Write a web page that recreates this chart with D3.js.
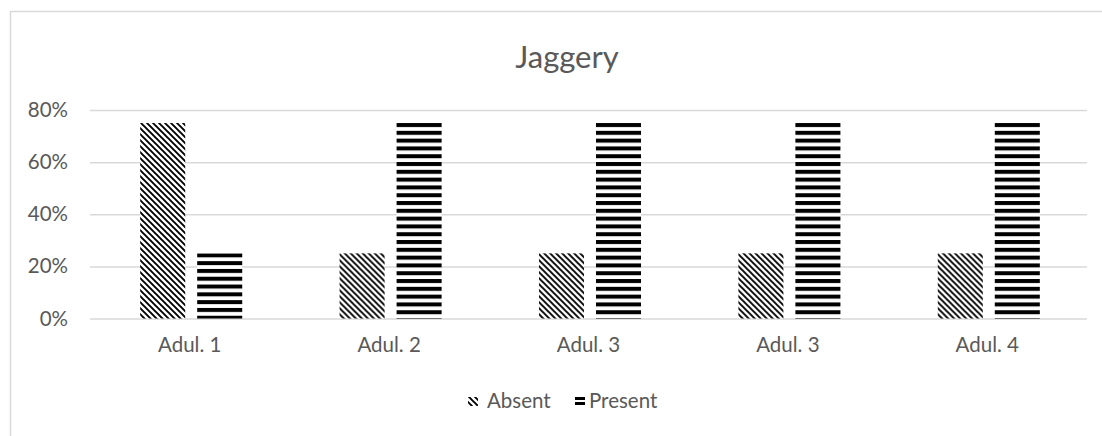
<!DOCTYPE html>
<html>
<head>
<meta charset="utf-8">
<script src="https://cdn.jsdelivr.net/npm/d3@7"></script>
<style>
  html, body { margin: 0; padding: 0; background: #fff; }
  svg { display: block; font-family: Lato, "Open Sans", sans-serif; }
</style>
</head>
<body>
<svg id="chart" width="1102" height="436"></svg>
<script>
// Data
const categories = ["Adul. 1", "Adul. 2", "Adul. 3", "Adul. 3", "Adul. 4"];
const seriesNames = ["Absent", "Present"];
const absentValues = [0.75, 0.25, 0.25, 0.25, 0.25];
const presentValues = [0.25, 0.75, 0.75, 0.75, 0.75];
const yTicks = [0, 0.2, 0.4, 0.6, 0.8];

const svg = d3.select("#chart");
const plotLeft = 90, plotRight = 1087, plotTop = 110, plotBottom = 318.5;
const textColor = "#595959";
const gridColor = "#d9d9d9";
const labelFont = "20.5px";

// Chart frame
svg.append("rect")
  .attr("x", 10.5).attr("y", 11.5)
  .attr("width", 1200).attr("height", 600)
  .attr("fill", "#fff")
  .attr("stroke", gridColor).attr("stroke-width", 1.5);

const idx = categories.map((d, i) => i);
const x0 = d3.scaleBand().domain(idx).range([plotLeft, plotRight]);
const x1 = d3.scaleBand().domain(seriesNames)
  .range([1.5, x0.bandwidth() + 1.5])
  .paddingInner(0.21).paddingOuter(0.854);
const y = d3.scaleLinear().domain([0, 0.8]).range([plotBottom, plotTop]);

const defs = svg.append("defs");

// Diagonal hatch for "Absent"
const diag = defs.append("pattern")
  .attr("id", "hatch-diag")
  .attr("patternUnits", "userSpaceOnUse")
  .attr("width", 6).attr("height", 6);
diag.append("rect").attr("width", 6).attr("height", 6).attr("fill", "#fff");
diag.append("path")
  .attr("d", "M-1,-1 L7,7 M-4,2 L2,8 M4,-2 L10,4")
  .attr("stroke", "#000").attr("stroke-width", 1.9);

// Gridlines and y axis labels
const yAxis = d3.axisLeft(y)
  .tickValues(yTicks)
  .tickFormat(d3.format(".0%"))
  .tickSize(-(plotRight - plotLeft))
  .tickPadding(22);
const gy = svg.append("g").attr("transform", `translate(${plotLeft},0)`).call(yAxis);
gy.select(".domain").remove();
gy.selectAll(".tick line").attr("stroke", gridColor).attr("stroke-width", 1.5);
gy.selectAll(".tick text")
  .attr("fill", textColor)
  .style("font-size", labelFont)
  .style("font-family", "Lato, 'Open Sans', sans-serif");

// Category axis labels
const xAxis = d3.axisBottom(x0).tickSize(0).tickPadding(19).tickFormat(i => categories[i]);
const gx = svg.append("g").attr("transform", `translate(0,${plotBottom})`).call(xAxis);
gx.select(".domain").remove();
gx.selectAll(".tick text")
  .attr("fill", textColor)
  .style("font-size", labelFont)
  .style("font-family", "Lato, 'Open Sans', sans-serif");

// Horizontal stripe patterns, one per Present bar, anchored at bar top
const stripePeriod = 7.8;
presentValues.forEach((v, i) => {
  const p = defs.append("pattern")
    .attr("id", "stripes-" + i)
    .attr("patternUnits", "userSpaceOnUse")
    .attr("x", 0).attr("y", y(v))
    .attr("width", 8).attr("height", stripePeriod);
  p.append("rect").attr("width", 8).attr("height", stripePeriod).attr("fill", "#fff");
  p.append("rect").attr("y", 0).attr("width", 8).attr("height", 4).attr("fill", "#000");
});

// Bars
const groups = svg.append("g").selectAll("g")
  .data(idx)
  .join("g")
  .attr("transform", i => `translate(${x0(i)},0)`);

groups.append("rect")
  .attr("x", x1("Absent"))
  .attr("y", i => y(absentValues[i]))
  .attr("width", x1.bandwidth())
  .attr("height", i => y(0) - y(absentValues[i]))
  .attr("fill", "url(#hatch-diag)");

groups.append("rect")
  .attr("x", x1("Present"))
  .attr("y", i => y(presentValues[i]))
  .attr("width", x1.bandwidth())
  .attr("height", i => y(0) - y(presentValues[i]))
  .attr("fill", i => `url(#stripes-${i})`);

// Title
svg.append("text")
  .attr("x", 567).attr("y", 68)
  .attr("text-anchor", "middle")
  .attr("fill", textColor)
  .style("font-size", "31px")
  .text("Jaggery");

// Legend
const legendStripes = defs.append("pattern")
  .attr("id", "legend-stripes")
  .attr("patternUnits", "userSpaceOnUse")
  .attr("x", 0).attr("y", 397)
  .attr("width", 8).attr("height", 5);
legendStripes.append("rect").attr("width", 8).attr("height", 5).attr("fill", "#fff");
legendStripes.append("rect").attr("width", 8).attr("height", 3).attr("fill", "#000");

const legend = svg.append("g");
const legendItems = [
  { name: seriesNames[0], x: 468, fill: "url(#hatch-diag)", text: 487 },
  { name: seriesNames[1], x: 575, fill: "url(#legend-stripes)", text: 589 }
];
legend.selectAll("rect").data(legendItems).join("rect")
  .attr("x", d => d.x).attr("y", 397)
  .attr("width", 10).attr("height", 9)
  .attr("fill", d => d.fill);
legend.selectAll("text").data(legendItems).join("text")
  .attr("x", d => d.text).attr("y", 408)
  .attr("fill", textColor)
  .style("font-size", labelFont)
  .text(d => d.name);
</script>
</body>
</html>
